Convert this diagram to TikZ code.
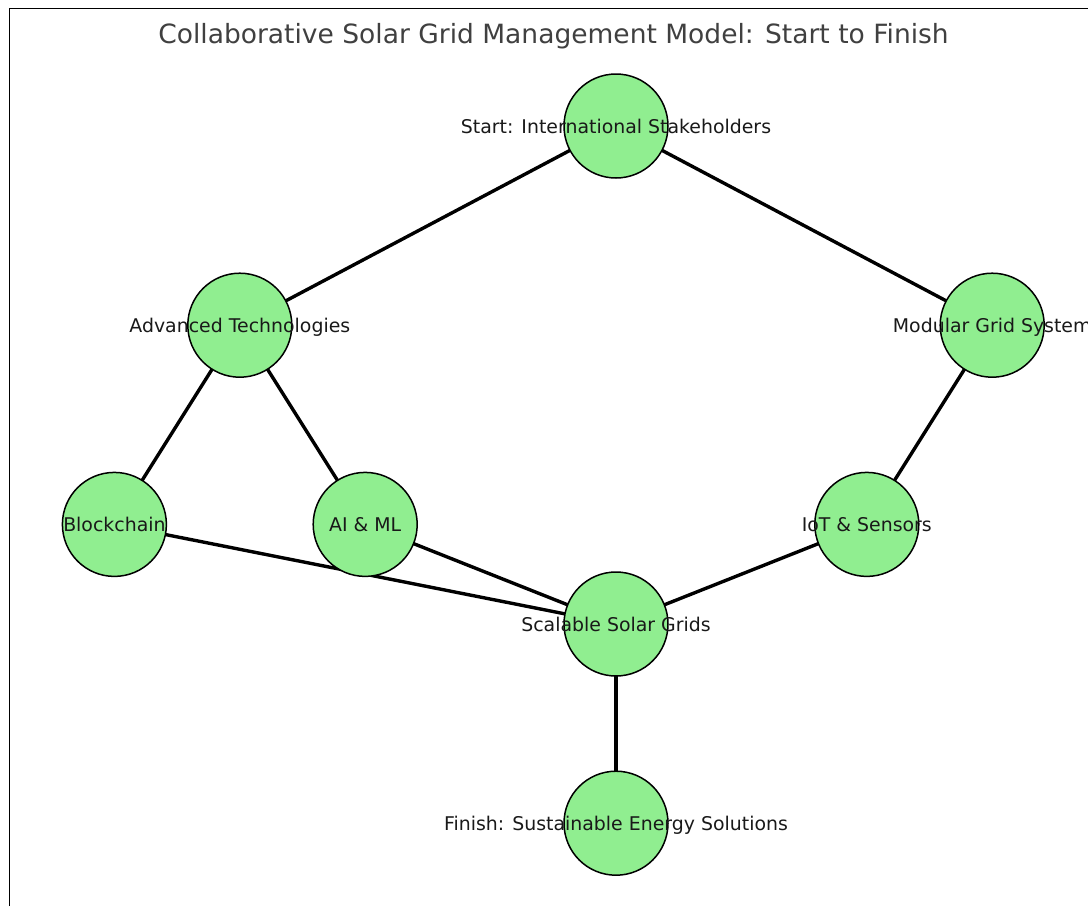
\documentclass[tikz,border=0pt]{standalone}
\usepackage{fontspec}
\setmainfont{DejaVu Sans}
\usepackage{tikz}
\usetikzlibrary{calc,positioning,backgrounds}
\definecolor{nodegreen}{HTML}{90EE90}
\definecolor{titlegray}{HTML}{404040}

\begin{document}
\begin{tikzpicture}[x=1pt, y=1pt]
\tikzstyle{vtx}=[draw, circle, fill = nodegreen, line width = 1.5pt, minimum size = 104pt, inner sep = 0pt, on grid]
\tikzstyle{txt}=[inner sep = 0pt, font = \fontsize{18.9}{22}\selectfont, text height = 0.73em, text depth = 0pt, yshift = -3.5pt, text = black!90]
\tikzstyle{edge}=[line width = 3.4pt]
\pgfmathsetmacro{\rx}{125.4}
\pgfmathsetmacro{\ry}{99.6}

\useasboundingbox (0,0) rectangle (1088,-906);
\draw[line width = 1pt] (9,-906) -- (9,-8) -- (1088,-8);

\node[anchor = base, text = titlegray, font = \fontsize{26.5}{30}\selectfont] (title) at (553.5,-43.5) {Collaborative Solar Grid Management Model: Start to Finish};

\node[vtx] (S) at (616,-126) {};
\node[vtx, below left = {2*\ry pt} and {3*\rx pt} of S] (AT) {};
\node[vtx, below right = {2*\ry pt} and {3*\rx pt} of S] (MG) {};
\node[vtx, below left = {2*\ry pt} and {\rx pt} of AT] (BC) {};
\node[vtx, below right = {2*\ry pt} and {\rx pt} of AT] (AI) {};
\node[vtx, below left = {2*\ry pt} and {\rx pt} of MG] (IOT) {};
\node[vtx, below = {5*\ry pt} of S] (SG) {};
\node[vtx, below = {2*\ry pt} of SG] (F) {};

\node[txt] (Stxt) at (S) {Start: International Stakeholders};
\node[txt] (ATtxt) at (AT) {Advanced Technologies};
\node[txt] (MGtxt) at (MG) {Modular Grid System};
\node[txt] (BCtxt) at (BC) {Blockchain};
\node[txt] (AItxt) at (AI) {AI \& ML};
\node[txt] (IOTtxt) at (IOT) {IoT \& Sensors};
\node[txt] (SGtxt) at (SG) {Scalable Solar Grids};
\node[txt] (Ftxt) at (F) {Finish: Sustainable Energy Solutions};

\begin{scope}[on background layer]
\foreach \i/\j in {S/AT, S/MG, AT/BC, AT/AI, MG/IOT, BC/SG, AI/SG, IOT/SG, SG/F}{\draw[edge] (\i.center) -- (\j.center);}
\end{scope}
\end{tikzpicture}
\end{document}
